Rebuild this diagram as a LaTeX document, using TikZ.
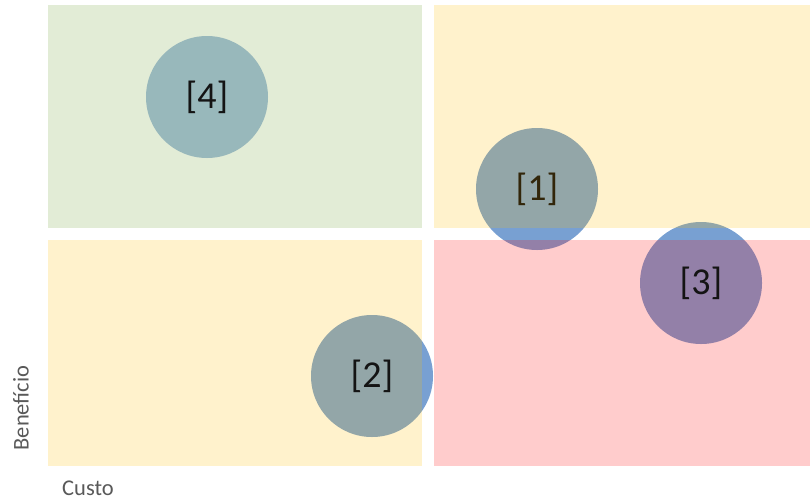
\documentclass[tikz,border=0pt]{standalone}
\usepackage{fontspec}
\setmainfont{Carlito}
\begin{document}
\begin{tikzpicture}[x=1pt,y=-1pt,
  bubble/.style={circle, inner sep=0pt, minimum size=122pt},
  tag/.style={inner sep=0pt, font=\fontsize{38}{40}\selectfont, text=tagblack},
  zone/.style={draw=none, inner sep=0pt, fill opacity=0.2, anchor=north west},
  axislabel/.style={text=axisgray, inner sep=0pt, font=\fontsize{22.5}{24}\selectfont}]
  \definecolor{bubbleblue}{RGB}{120,160,210}
  \definecolor{bubblelight}{RGB}{162,190,222}
  \definecolor{zonegreen}{RGB}{112,160,50}
  \definecolor{zonegold}{RGB}{255,190,0}
  \definecolor{zonered}{RGB}{255,0,0}
  \definecolor{axisgray}{RGB}{89,89,89}
  \definecolor{tagblack}{RGB}{20,20,20}
  \definecolor{tagbrown}{RGB}{50,38,10}
  \useasboundingbox (0,0) rectangle (810,501);
  \fill[white] (0,0) rectangle (810,501);

  % bubbles sit under the translucent quadrants
  \node[bubble, fill=bubblelight] (b4) at (207,97) {};
  \node[bubble, fill=bubbleblue] (b1) at (537,189) {};
  \node[bubble, fill=bubbleblue] (b3) at (701,283) {};
  \node[bubble, fill=bubbleblue] (b2) at (372,376) {};

  % quadrants
  \node[zone, fill=zonegreen, minimum width=374pt, minimum height=223pt] (q4) at (48,5) {};
  \node[zone, fill=zonegold, minimum width=376pt, minimum height=223pt] (q1) at (434,5) {};
  \node[zone, fill=zonegold, minimum width=374pt, minimum height=226pt] (q2) at (48,240) {};
  \node[zone, fill=zonered, minimum width=376pt, minimum height=226pt] (q3) at (434,240) {};

  % bubble labels on top
  \node[tag] (t4) at (b4) {[4]};
  \node[tag, text=tagbrown] (t1) at (b1) {[1]};
  \node[tag] (t3) at (b3) {[3]};
  \node[tag] (t2) at (b2) {[2]};

  % axis labels
  \node[axislabel, anchor=base west] (cost) at (62,495.5) {Custo};
  \node[axislabel, rotate=90] (benefit) at (21,408) {Benefício};
\end{tikzpicture}
\end{document}
